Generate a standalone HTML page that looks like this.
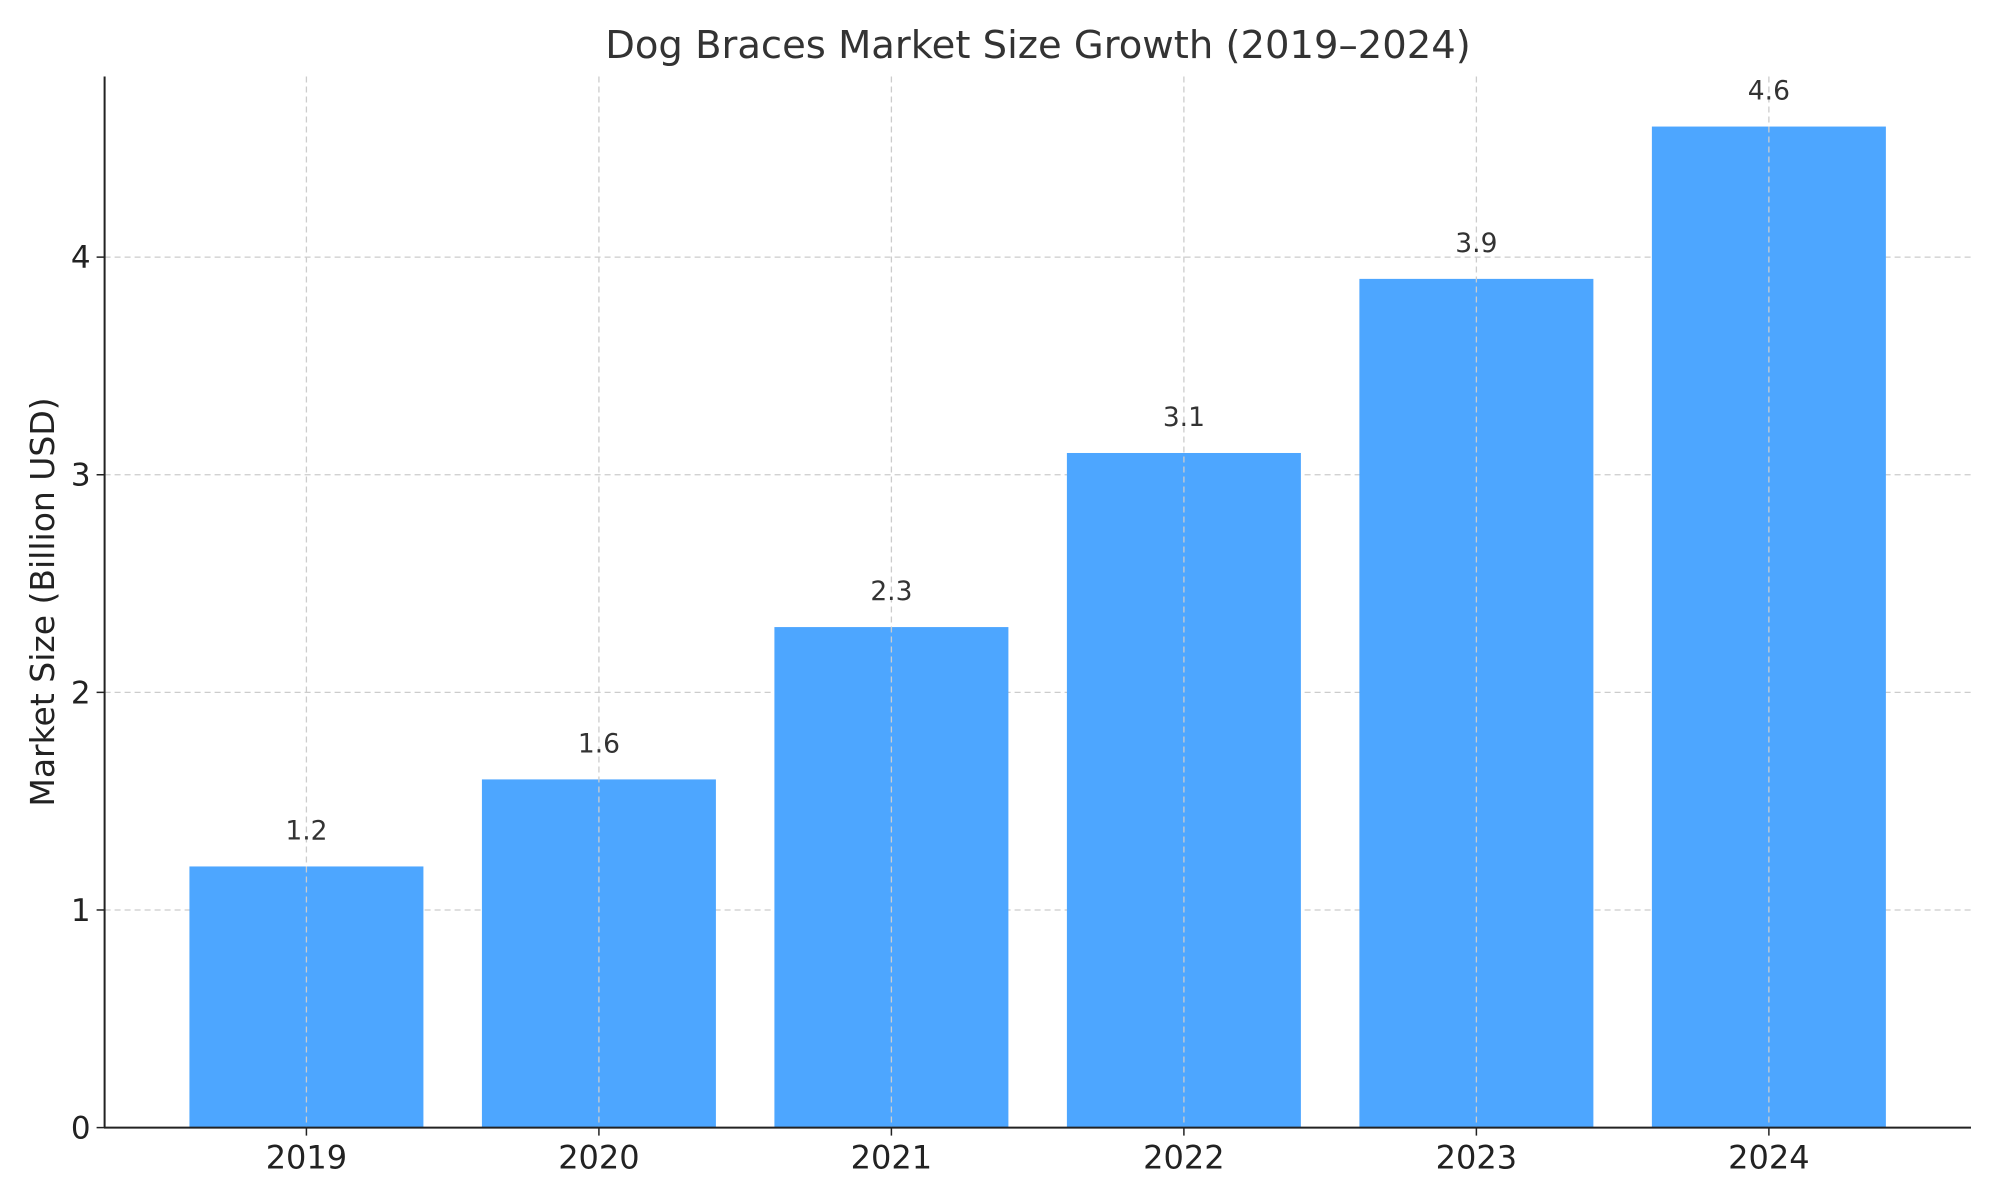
<!DOCTYPE html>
<html><head><meta charset="utf-8"><style>
body{margin:0;background:#fff;}
svg{display:block;font-family:"DejaVu Sans","Liberation Sans",sans-serif;}
</style></head><body>
<svg id="chart" width="2000" height="1200" viewBox="0 0 2000 1200">
<text x="1038" y="58" font-size="38.5" fill="#333" text-anchor="middle">Dog Braces Market Size Growth (2019–2024)</text>
<text transform="translate(54,602) rotate(-90)" font-size="33" fill="#222" text-anchor="middle">Market Size (Billion USD)</text>
<g id="grid"></g><g id="bars"></g><g id="labels"></g><g id="ticks"></g>
<line x1="104.6" y1="76.5" x2="104.6" y2="1128" stroke="#222" stroke-width="2"/>
<line x1="104" y1="1127.6" x2="1971" y2="1127.6" stroke="#222" stroke-width="2"/>
</svg>
<script>
const categories=["2019","2020","2021","2022","2023","2024"];
const values=[1.2,1.6,2.3,3.1,3.9,4.6];
const valueLabels=["1.2","1.6","2.3","3.1","3.9","4.6"];
const yTicks=[0,1,2,3,4];
const L=104.6,R=1970.7,B=1127.6,T=76.5;
const xMin=-0.69,xMax=5.69,yMax=4.83;
const NS="http://www.w3.org/2000/svg";
function xs(i){return L+(i-xMin)/(xMax-xMin)*(R-L);}
function ys(v){return B-v/yMax*(B-T);}
function mk(tag,attrs,parent,text){const e=document.createElementNS(NS,tag);for(const k in attrs)e.setAttribute(k,attrs[k]);if(text!==undefined)e.textContent=text;document.getElementById(parent).appendChild(e);return e;}
const bw=0.8*(xs(1)-xs(0));
yTicks.forEach(t=>{
 const y=ys(t);
 if(t>0){const g=mk("line",{x1:L,x2:R,y1:y,y2:y,stroke:"#ccc","stroke-width":1.3,"stroke-dasharray":"6,4"},"grid");
 
 }
 const tk=mk("line",{x1:L-8,x2:L,y1:y,y2:y,stroke:"#222","stroke-width":1.5},"ticks");
 
 
 const tl=mk("text",{x:L-14,y:y+11,"font-size":31,fill:"#222","text-anchor":"end"},"ticks",String(t));
 
 
});
categories.forEach((c,i)=>{
 const x=xs(i),y=ys(values[i]);
 const b=mk("rect",{x:x-bw/2,y:y,width:bw,height:B-y,fill:"#4da6ff"},"bars");
 
 
 const g=mk("line",{x1:x,x2:x,y1:T,y2:B,stroke:"#ccc","stroke-width":1.3,"stroke-dasharray":"6,4"},"labels");
 
 
 const v=mk("text",{x:x,y:y-27,"font-size":26.5,fill:"#333","text-anchor":"middle"},"labels",valueLabels[i]);
 
 
 const tk=mk("line",{x1:x,x2:x,y1:B,y2:B+8,stroke:"#222","stroke-width":1.5},"ticks");
 
 
 const tl=mk("text",{x:x,y:B+41,"font-size":32,fill:"#222","text-anchor":"middle"},"ticks",c);
 
 
});
</script>
</body></html>
